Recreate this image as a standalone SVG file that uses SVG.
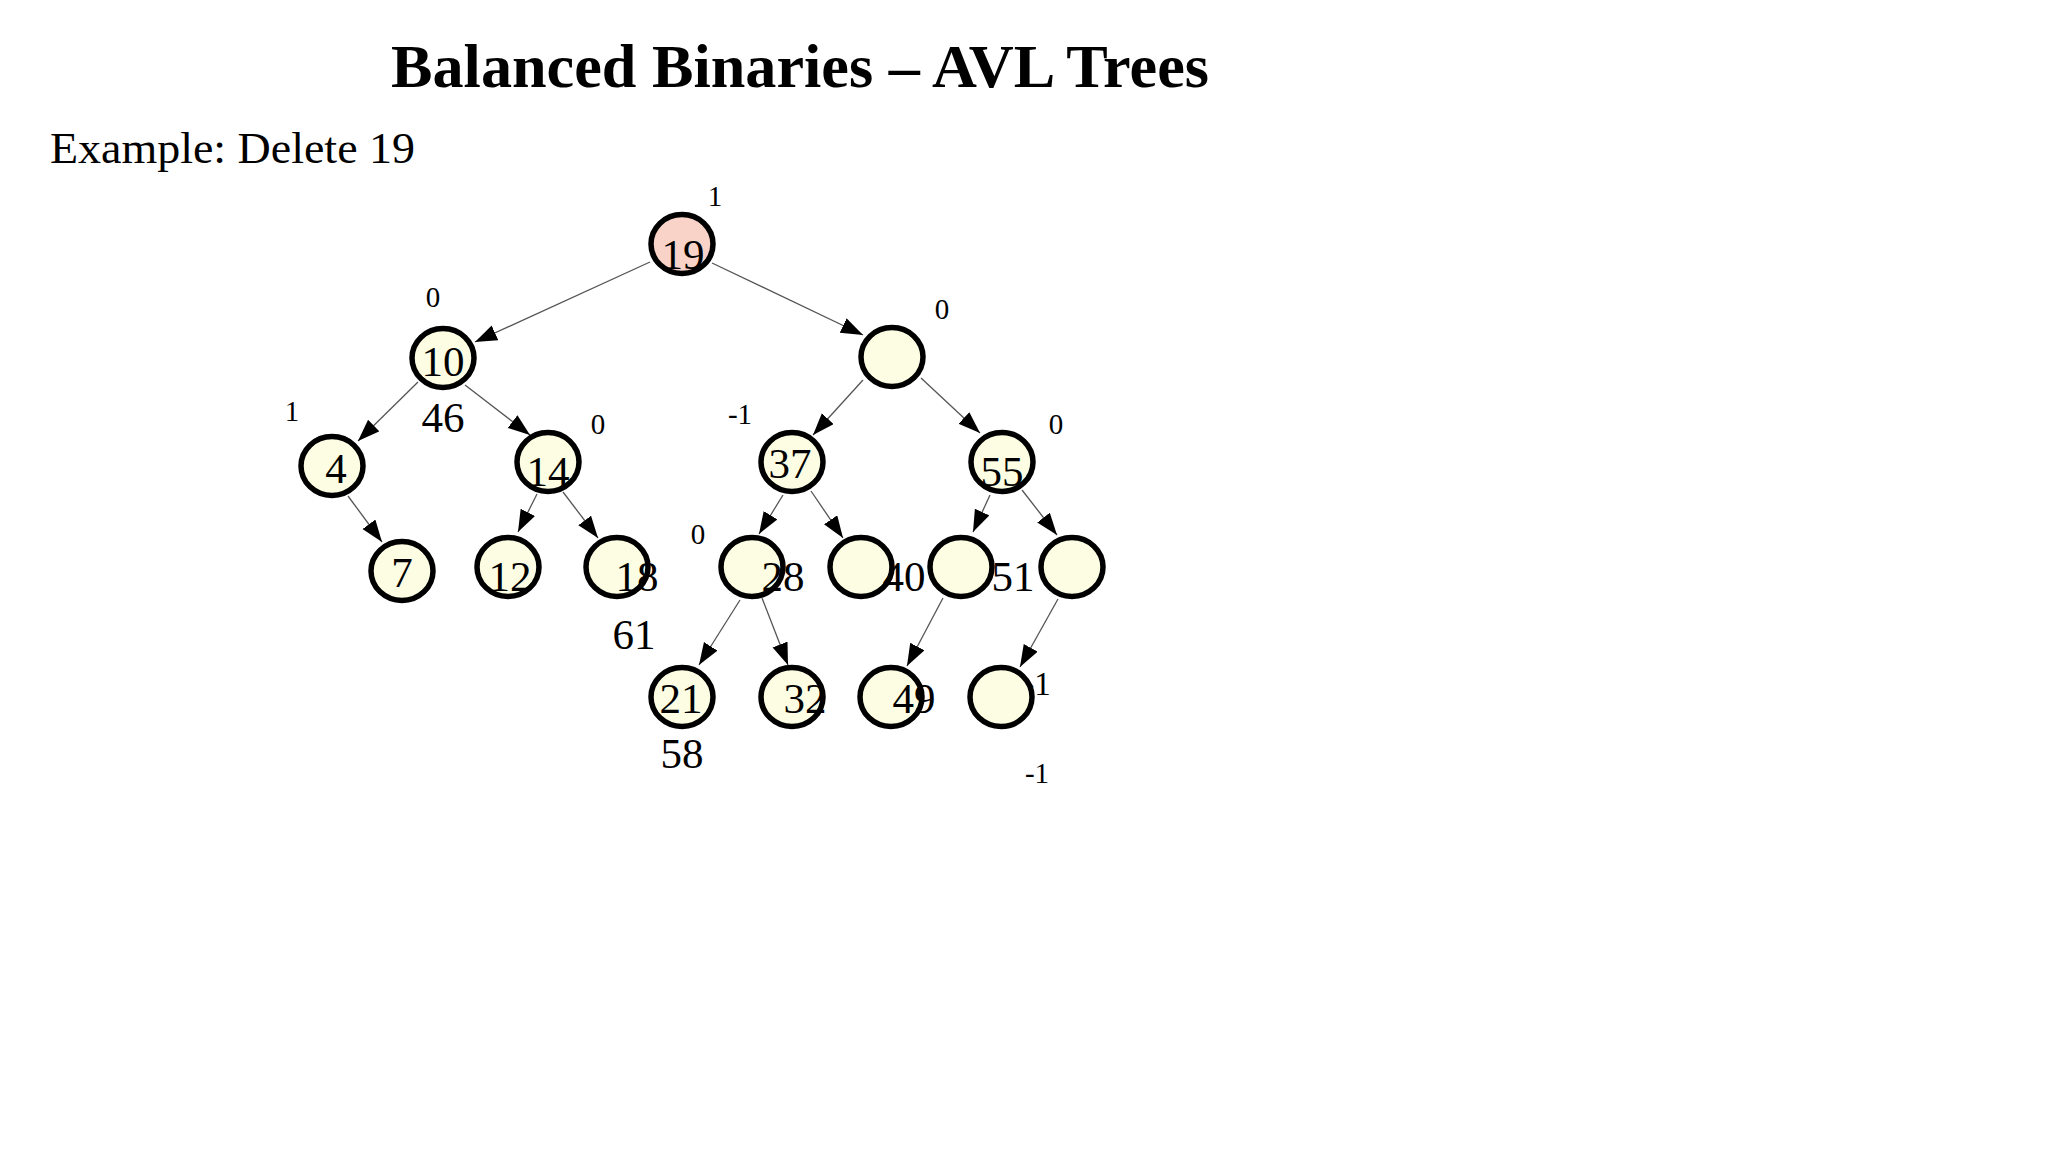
<svg xmlns="http://www.w3.org/2000/svg" width="2048" height="1152" viewBox="0 0 2048 1152">
<defs>
<style>
.t{font-family:"Liberation Serif","Times New Roman",serif;fill:#000}
.title{font-size:61px;font-weight:bold}
.sub{font-size:45px}
.num{font-size:43px;text-anchor:middle}
.bal{font-size:29px;text-anchor:middle}
.n{fill:#fcfde2;stroke:#000;stroke-width:5.5}
.root{fill:#f9d3c8}
.e{stroke:#555;stroke-width:1.3;fill:none;marker-end:url(#arr)}
</style>
<marker id="arr" markerUnits="userSpaceOnUse" markerWidth="24" markerHeight="20" refX="22" refY="8" orient="auto">
<path d="M0,0 L22,8 L0,16 Z" fill="#000"/>
</marker>
</defs>
<rect width="2048" height="1152" fill="#fff"/>
<text class="t title" x="391" y="87" textLength="818" lengthAdjust="spacingAndGlyphs">Balanced Binaries – AVL Trees</text>
<text class="t sub" x="50" y="163" textLength="365" lengthAdjust="spacingAndGlyphs">Example: Delete 19</text>
<g id="connectors">
<line class="e" x1="650" y1="262" x2="475" y2="342"/>
<line class="e" x1="712" y1="263" x2="863" y2="335"/>
<line class="e" x1="418" y1="382" x2="358" y2="441"/>
<line class="e" x1="465" y1="385" x2="530" y2="435"/>
<line class="e" x1="863" y1="380" x2="813" y2="435"/>
<line class="e" x1="921" y1="378" x2="980" y2="433"/>
<line class="e" x1="348" y1="496" x2="382" y2="542"/>
<line class="e" x1="537" y1="494" x2="518" y2="532"/>
<line class="e" x1="563" y1="492" x2="598" y2="538"/>
<line class="e" x1="783" y1="495" x2="759" y2="534"/>
<line class="e" x1="811" y1="491" x2="843" y2="538"/>
<line class="e" x1="990" y1="495" x2="973" y2="532"/>
<line class="e" x1="1022" y1="490" x2="1057" y2="535"/>
<line class="e" x1="740" y1="600" x2="699" y2="665"/>
<line class="e" x1="762" y1="598" x2="788" y2="665"/>
<line class="e" x1="943" y1="598" x2="907" y2="666"/>
<line class="e" x1="1058" y1="599" x2="1020" y2="667"/>
</g>
<text class="t" x="1037" y="695" font-size="33" text-anchor="middle">-1</text>
<g id="node-19"><ellipse class="n root" cx="682" cy="244" rx="31" ry="29.5"/><text class="t num" x="683" y="269">19</text></g>
<g id="node-10"><ellipse class="n" cx="443" cy="358" rx="31" ry="29.5"/><text class="t num" x="443" y="376">10</text></g>
<g id="node-r"><ellipse class="n" cx="892" cy="357" rx="31" ry="29.5"/></g>
<g id="node-4"><ellipse class="n" cx="332" cy="466" rx="31" ry="29.5"/><text class="t num" x="336" y="483">4</text></g>
<g id="node-14"><ellipse class="n" cx="548" cy="462" rx="31" ry="29.5"/><text class="t num" x="548" y="486">14</text></g>
<g id="node-37"><ellipse class="n" cx="792" cy="462" rx="31" ry="29.5"/><text class="t num" x="790" y="478">37</text></g>
<g id="node-55"><ellipse class="n" cx="1002" cy="462" rx="31" ry="29.5"/><text class="t num" x="1002" y="486">55</text></g>
<g id="node-7"><ellipse class="n" cx="402" cy="571" rx="31" ry="29.5"/><text class="t num" x="402" y="587">7</text></g>
<g id="node-12"><ellipse class="n" cx="508" cy="567" rx="31" ry="29.5"/><text class="t num" x="510" y="591">12</text></g>
<g id="node-18"><ellipse class="n" cx="617" cy="567" rx="31" ry="29.5"/><text class="t num" x="637" y="591">18</text></g>
<g id="node-28"><ellipse class="n" cx="752" cy="567" rx="31" ry="29.5"/><text class="t num" x="783" y="591">28</text></g>
<g id="node-40"><ellipse class="n" cx="861" cy="567" rx="31" ry="29.5"/><text class="t num" x="904" y="591">40</text></g>
<g id="node-51"><ellipse class="n" cx="961" cy="567" rx="31" ry="29.5"/><text class="t num" x="1013" y="591">51</text></g>
<g id="node-rr"><ellipse class="n" cx="1072" cy="567" rx="31" ry="29.5"/></g>
<g id="node-21"><ellipse class="n" cx="682" cy="697" rx="31" ry="29.5"/><text class="t num" x="681" y="713">21</text></g>
<g id="node-32"><ellipse class="n" cx="792" cy="697" rx="31" ry="29.5"/><text class="t num" x="805" y="713">32</text></g>
<g id="node-49"><ellipse class="n" cx="891" cy="697" rx="31" ry="29.5"/><text class="t num" x="914" y="713">49</text></g>
<g id="node-b"><ellipse class="n" cx="1001" cy="697" rx="31" ry="29.5"/></g>
<g id="labels">
<text class="t num" x="443" y="432">46</text>
<text class="t num" x="634" y="649">61</text>
<text class="t num" x="682" y="768">58</text>
<text class="t bal" x="715" y="206">1</text>
<text class="t bal" x="433" y="307">0</text>
<text class="t bal" x="942" y="319">0</text>
<text class="t bal" x="292" y="421">1</text>
<text class="t bal" x="598" y="434">0</text>
<text class="t bal" x="740" y="424">-1</text>
<text class="t bal" x="1056" y="434">0</text>
<text class="t bal" x="698" y="544">0</text>
<text class="t bal" x="1037" y="783">-1</text>
</g>
</svg>
